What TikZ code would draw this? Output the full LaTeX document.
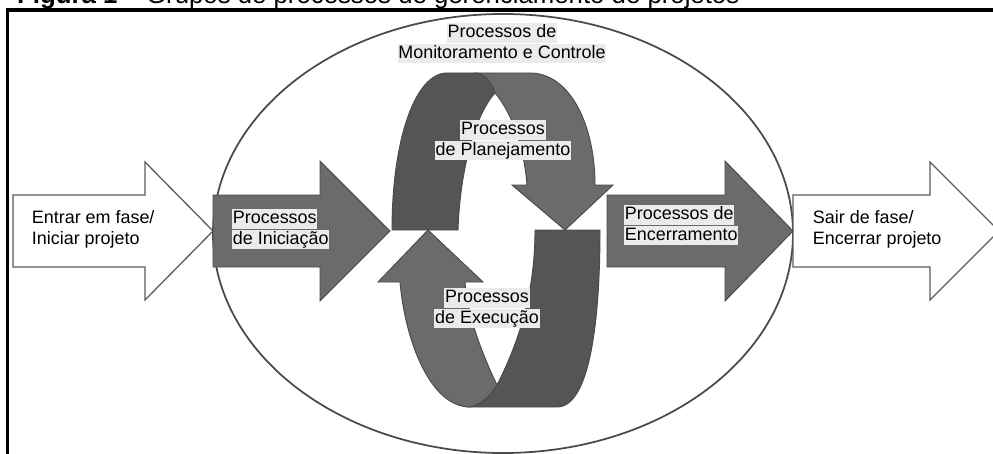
\documentclass[tikz,border=0pt]{standalone}
\usepackage{fontspec}
\setmainfont{Liberation Sans}
\usetikzlibrary{positioning}
\definecolor{darkfill}{HTML}{6B6B6B}
\definecolor{backfill}{HTML}{555555}
\definecolor{edgegray}{HTML}{4A4A4A}
\definecolor{labelbg}{HTML}{EBEBEB}
\begin{document}
\begin{tikzpicture}[x=0.03cm,y=-0.03cm,
  whitearrow/.style={draw=edgegray!90, fill=white, line width=1.1pt},
  darkarrow/.style={draw=edgegray, fill=darkfill, line width=0.8pt},
  backpart/.style={draw=edgegray, fill=backfill, line width=0.8pt},
  txt/.style={font=\fontsize{15.3}{18}\selectfont, inner xsep=0.6pt, inner ysep=0.3pt, text height=12.3pt, text depth=4pt},
  lbl/.style={txt, fill=labelbg}]
\useasboundingbox (0,0) rectangle (993,454);
\clip (0,0) rectangle (993,454);

\node[anchor=base west, inner sep=0pt, font=\fontsize{22}{26}\selectfont] (title) at (17,4) {\textbf{Figura 1} – Grupos de processos de gerenciamento de projetos};
\draw[line width=3pt] (7.6,470) -- (7.6,10) -- (1010,10);

\draw[edgegray, line width=1.5pt] (503,233.5) ellipse [x radius=8.7cm, y radius=6.585cm];

% in and out of the phase
\draw[whitearrow] (13,195) -- (145,195) -- (145,162) -- (213,231) -- (145,300) -- (145,267) -- (13,267) -- cycle;
\draw[whitearrow] (793,195) -- (930,195) -- (930,162) -- (999,231) -- (930,300) -- (930,267) -- (793,267) -- cycle;

% initiating and closing
\draw[darkarrow] (213,195) -- (320,195) -- (320,161) -- (390,231) -- (320,301) -- (320,267) -- (213,267) -- cycle;
\draw[darkarrow] (607,195) -- (725,195) -- (725,161) -- (793,231) -- (725,301) -- (725,267) -- (607,267) -- cycle;

% planning loop
\draw[backpart] (392,230) .. controls (392,140) and (415,73) .. (447,73) -- (477,73)
  .. controls (486,75) and (492,83) .. (495,93) .. controls (475,115) and (460,170) .. (458,230) -- cycle;
\draw[darkarrow] (477,73) -- (530,73) .. controls (570,73) and (595,125) .. (595,185) -- (613,185) -- (565,230)
  -- (512,185) -- (527,185) .. controls (524,145) and (510,110) .. (495,93) .. controls (492,83) and (486,75) .. (477,73) -- cycle;

% executing loop
\draw[backpart] (535,230) -- (600,230) .. controls (600,320) and (590,407) .. (557,407) -- (470,407)
  .. controls (480,405) and (490,397) .. (497,385) .. controls (520,340) and (535,290) .. (535,230) -- cycle;
\draw[darkarrow] (428,230) -- (483,282) -- (465,282) .. controls (468,320) and (485,360) .. (497,385)
  .. controls (490,397) and (480,405) .. (470,407) .. controls (430,407) and (405,340) .. (400,282) -- (378,282) -- cycle;

% labels
\node[txt, anchor=north west] (ent1) at (31,209) {Entrar em fase/};
\node[txt, below=0pt of ent1.south west, anchor=north west] (ent2) {Iniciar projeto};
\node[lbl, anchor=north west] (ini1) at (232,209) {Processos};
\node[lbl, below=0pt of ini1.south west, anchor=north west] (ini2) {de Iniciação};
\node[lbl, anchor=north west] (enc1) at (624,205) {Processos de};
\node[lbl, below=0pt of enc1.south west, anchor=north west] (enc2) {Encerramento};
\node[txt, anchor=north west] (sai1) at (812,209) {Sair de fase/};
\node[txt, below=0pt of sai1.south west, anchor=north west] (sai2) {Encerrar projeto};
\node[lbl, anchor=north] (mon1) at (502,23) {Processos de};
\node[lbl, below=0pt of mon1] (mon2) {Monitoramento e Controle};
\node[lbl, anchor=north] (pla1) at (503,120) {Processos};
\node[lbl, below=0pt of pla1] (pla2) {de Planejamento};
\node[lbl, anchor=north] (exe1) at (487,288) {Processos};
\node[lbl, below=0pt of exe1] (exe2) {de Execução};
\end{tikzpicture}
\end{document}
